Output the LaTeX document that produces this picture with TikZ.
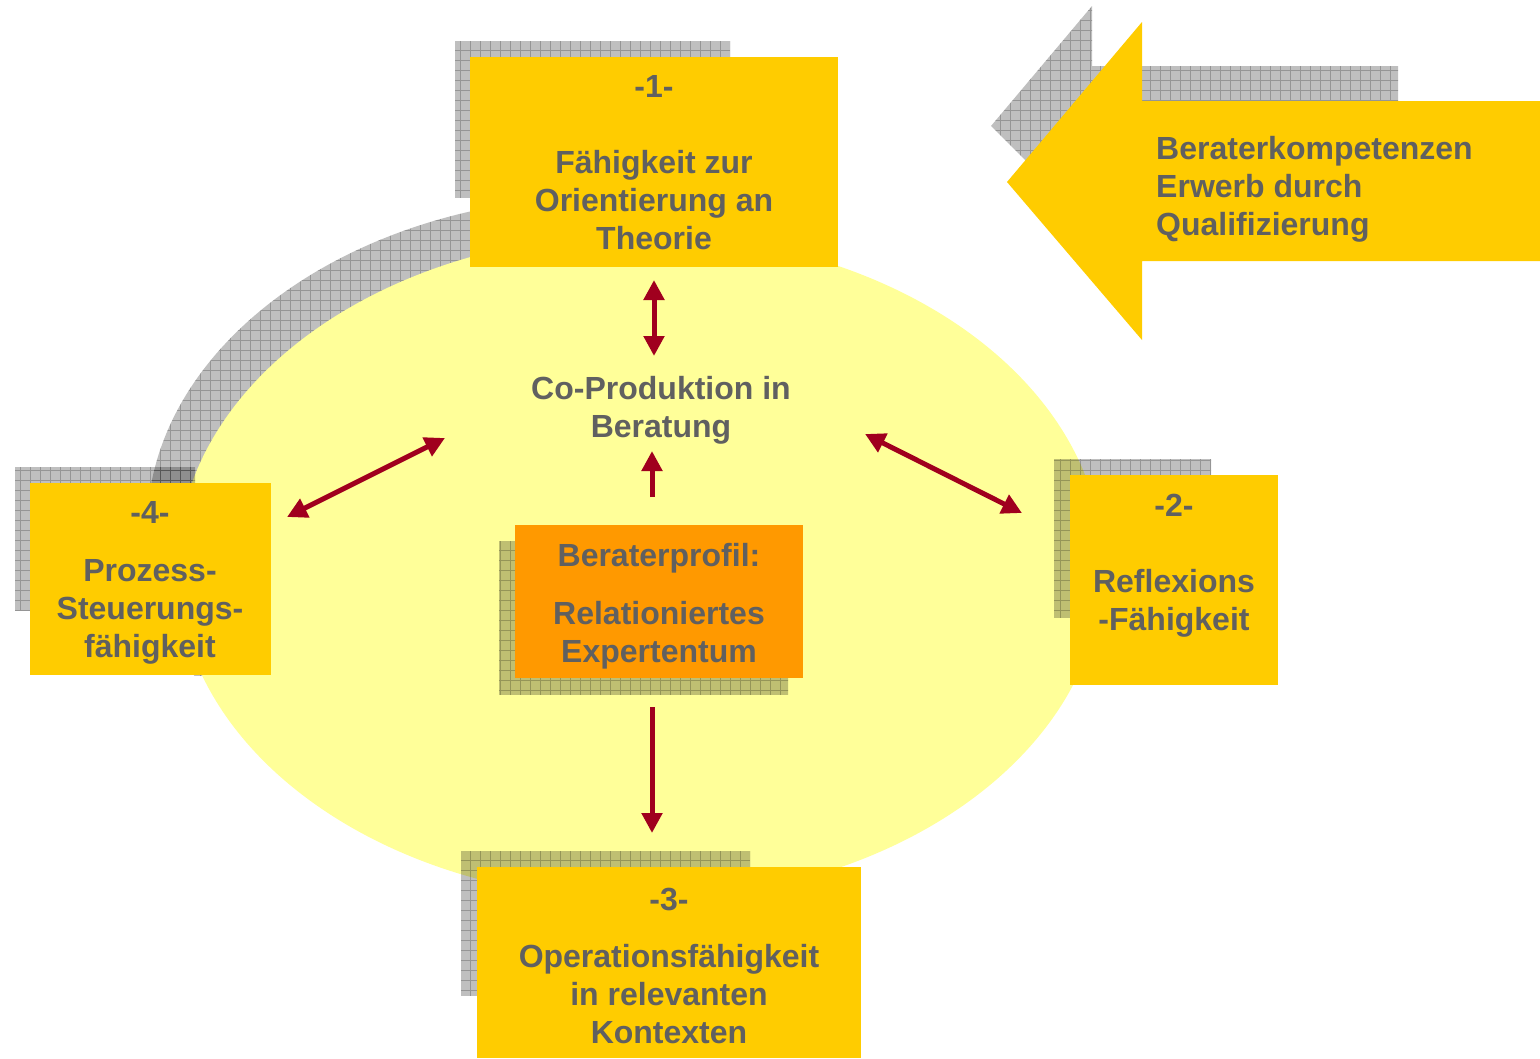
\documentclass[tikz,border=0pt]{standalone}
\usepackage{fontspec}
\setmainfont{Liberation Sans}
\usetikzlibrary{arrows.meta}
\definecolor{boxyellow}{HTML}{FFCC00}
\definecolor{ellyellow}{HTML}{FFFF99}
\definecolor{boxorange}{HTML}{FF9900}
\definecolor{txtgray}{HTML}{606060}
\definecolor{arrred}{HTML}{A0001E}
\newcommand\myhatch[1]{%
  \begin{scope}
    \clip #1;
    \fill[black, fill opacity=0.25] (0,0) rectangle (1540,1058);
    \draw[black, draw opacity=0.22, line width=1pt, step=10pt] (0,0) grid (1540,1058);
  \end{scope}}
\tikzset{
  box/.style={fill=boxyellow, draw=none, inner sep=0pt, outer sep=0pt, anchor=north west},
  lbl/.style={text=txtgray, font=\bfseries\fontsize{32}{38}\selectfont, align=center, inner sep=0pt},
  conn/.style={draw=arrred, line width=5pt},
  tip/.tip={Triangle[length=20pt,width=20pt]},
}
\begin{document}
\begin{tikzpicture}[x=1pt,y=-1pt]
\useasboundingbox (0,0) rectangle (1540,1058);
% ellipse shadow (partial)
\begin{scope}
  \clip (0,0) rectangle (600,675);
  \myhatch{(610,529) ellipse [x radius=463, y radius=333]}
\end{scope}
% ellipse
\fill[ellyellow] (640,567) ellipse [x radius=463, y radius=333];
% big arrow shadow
\myhatch{(991,126) -- (1092,6) -- (1092,66) -- (1398,66) -- (1398,150) -- (1060,195) -- cycle}
% big arrow
\fill[boxyellow] (1007,182) -- (1142,22) -- (1142,101) -- (1540,101) -- (1540,261) -- (1142,261) -- (1142,340) -- cycle;
\node[lbl, align=left, anchor=west] (erwerb) at (1156,189) {Beraterkompetenzen\\Erwerb durch\\Qualifizierung};
% box shadows
\myhatch{(455,41) rectangle (730,197)}
\myhatch{(15,467) rectangle (195,610)}
\myhatch{(1054,459) rectangle (1211,617)}
\myhatch{(461,851) rectangle (750,995)}
\myhatch{(499,541) rectangle (788,694)}
% boxes
\node[box, minimum width=368pt, minimum height=210pt] (b1) at (470,57) {};
\node[box, minimum width=241pt, minimum height=192pt] (b4) at (30,483) {};
\node[box, minimum width=208pt, minimum height=210pt] (b2) at (1070,475) {};
\node[box, minimum width=384pt, minimum height=191pt] (b3) at (477,867) {};
\node[box, fill=boxorange, minimum width=288pt, minimum height=153pt] (bc) at (515,525) {};
% texts
\node[lbl] (t1) at (654,163) {-1-\\[38pt]Fähigkeit zur\\Orientierung an\\Theorie};
\node[lbl] (t4) at (150,583) {-4-\\[20pt]Prozess-\\Steuerungs-\\fähigkeit};
\node[lbl] (t2) at (1174,566) {-2-\\[38pt]Reflexions\\-Fähigkeit};
\node[lbl] (t3) at (669,966) {-3-\\[19pt]Operationsfähigkeit\\in relevanten\\Kontexten};
\node[lbl] (tc) at (659,606) {Beraterprofil:\\[20pt]Relationiertes\\Expertentum};
\node[lbl] (co) at (661,410) {Co-Produktion in\\Beratung};
% arrow end points
\coordinate (a1s) at (654,280); \coordinate (a1e) at (654,356);
\coordinate (a4s) at (445,438); \coordinate (a4e) at (287,517);
\coordinate (a2s) at (865,434); \coordinate (a2e) at (1022,513);
\coordinate (aus) at (652,497); \coordinate (aue) at (652,451);
\coordinate (ads) at (652,707); \coordinate (ade) at (652,833);
\draw[conn, tip-tip] (a1s) -- (a1e);
\draw[conn, tip-tip] (a4s) -- (a4e);
\draw[conn, tip-tip] (a2s) -- (a2e);
\draw[conn, -tip] (aus) -- (aue);
\draw[conn, -tip] (ads) -- (ade);
\end{tikzpicture}
\end{document}
